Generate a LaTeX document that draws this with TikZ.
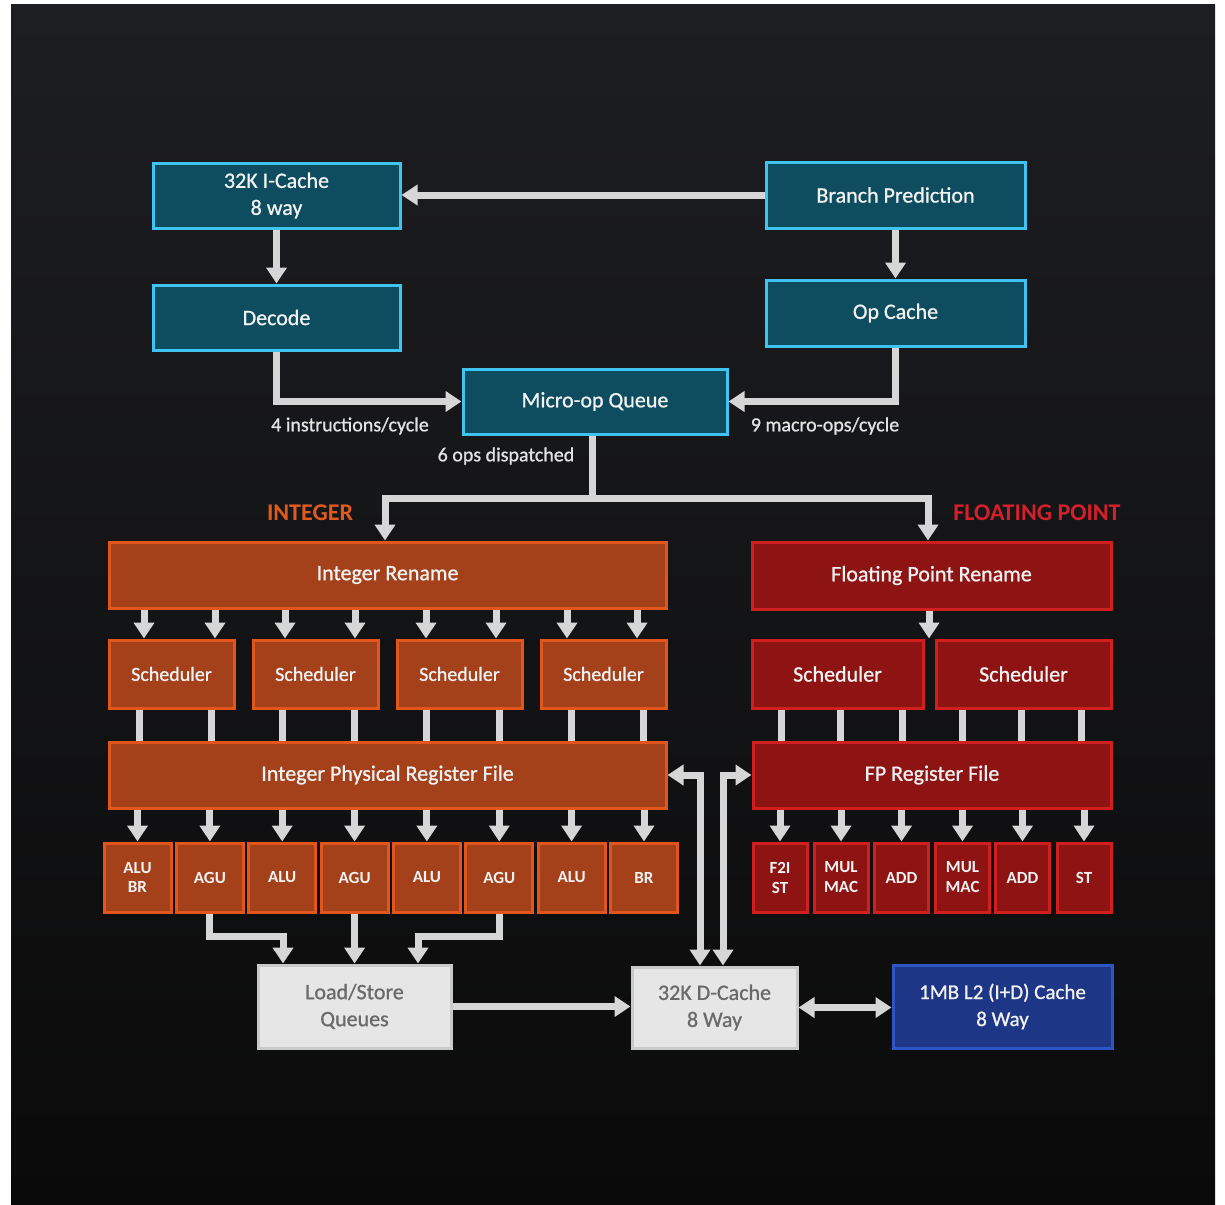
\documentclass[tikz,border=0pt]{standalone}
\usepackage{fontspec}
\setmainfont{Carlito}
\newfontfamily\medfont{Carlito}[FakeBold=0.9]
\usetikzlibrary{arrows.meta,calc}
\definecolor{bgtop}{HTML}{1D1E22}
\definecolor{bgbot}{HTML}{0A0A0A}
\definecolor{tealf}{HTML}{0E4C60}
\definecolor{teald}{HTML}{3FC3F0}
\definecolor{orgf}{HTML}{A4411A}
\definecolor{orgd}{HTML}{E2561C}
\definecolor{redf}{HTML}{8E1414}
\definecolor{redd}{HTML}{D11E1E}
\definecolor{ltwof}{HTML}{1D3686}
\definecolor{ltwod}{HTML}{2E55C6}
\definecolor{grayf}{HTML}{E6E6E6}
\definecolor{grayd}{HTML}{C9C9C9}
\definecolor{grayt}{HTML}{6A6A6A}
\definecolor{linegray}{HTML}{D6D6D6}
\definecolor{txtw}{HTML}{F2F2F2}
\definecolor{labgray}{HTML}{E2E2E2}
\definecolor{intlab}{HTML}{E05A1E}
\definecolor{fplab}{HTML}{D3202A}
\begin{document}
\begin{tikzpicture}[x=1pt,y=-1pt,
  sz/.style 2 args={minimum width=#1pt,minimum height=#2pt},
  blk/.style={draw,line width=3pt,inner sep=0pt,align=center,text=txtw},
  tealbox/.style={blk,fill=tealf,draw=teald,font=\medfont\fontsize{22}{27}\selectfont},
  orgbox/.style={blk,fill=orgf,draw=orgd,font=\medfont\fontsize{22}{27}\selectfont},
  redbox/.style={blk,fill=redf,draw=redd,font=\medfont\fontsize{22}{27}\selectfont},
  isched/.style={orgbox,font=\medfont\fontsize{20}{24}\selectfont},
  iunit/.style={orgbox,font=\bfseries\fontsize{17}{19}\selectfont},
  funit/.style={redbox,font=\bfseries\fontsize{17}{20}\selectfont},
  graybox/.style={blk,fill=grayf,draw=grayd,text=grayt,font=\medfont\fontsize{22}{27}\selectfont},
  ltwobox/.style={blk,fill=ltwof,draw=ltwod,font=\medfont\fontsize{21}{27}\selectfont},
  lab/.style={text=labgray,font=\medfont\fontsize{20}{24}\selectfont,inner sep=0pt},
  sect/.style={font=\bfseries\fontsize{24}{28}\selectfont,inner sep=0pt},
  wire/.style={draw=linegray,line width=7pt},
  arr/.style={wire,-{Triangle[width=20pt,length=16pt]}},
  darr/.style={wire,{Triangle[width=20pt,length=16pt]}-{Triangle[width=20pt,length=16pt]}},
]
\useasboundingbox (0,0) rectangle (1225,1204);
\fill[white] (0,0) rectangle (1225,1204);
\shade[top color=bgtop,bottom color=bgbot] (11,5) rectangle (1215,1204);

% front end
\node[tealbox,sz={247}{65}] (ic) at (276.5,195.5) {32K I-Cache\\8 way};
\node[tealbox,sz={259}{66}] (bp) at (895.5,195) {Branch Prediction};
\node[tealbox,sz={247}{65}] (dec) at (276.5,317.5) {Decode};
\node[tealbox,sz={259}{66}] (opc) at (895.5,313) {Op Cache};
\node[tealbox,sz={264}{65}] (muq) at (595,401.5) {Micro-op Queue};

\node[lab] (l4) at (350,426) {4 instructions/cycle};
\node[lab] (l9) at (825,426) {9 macro-ops/cycle};
\node[lab] (l6) at (506,456) {6 ops dispatched};
\node[sect,text=intlab] (tint) at (310,513) {INTEGER};
\node[sect,text=fplab] (tfp) at (1037,513) {FLOATING POINT};

% rename
\node[orgbox,sz={557}{66}] (irn) at (387.5,575) {Integer Rename};
\node[redbox,sz={359}{67}] (frn) at (931.5,575.5) {Floating Point Rename};

% schedulers
\node[isched,sz={125}{68}] (is1) at (171.5,674) {Scheduler};
\node[isched,sz={125}{68}] (is2) at (315.5,674) {Scheduler};
\node[isched,sz={125}{68}] (is3) at (459.5,674) {Scheduler};
\node[isched,sz={125}{68}] (is4) at (603.5,674) {Scheduler};
\node[redbox,sz={171}{68}] (fs1) at (837.5,674) {Scheduler};
\node[redbox,sz={175}{68}] (fs2) at (1023.5,674) {Scheduler};

% register files
\node[orgbox,sz={557}{66}] (iprf) at (387.5,775) {Integer Physical Register File};
\node[redbox,sz={358}{66}] (fprf) at (932,775) {FP Register File};

% integer units
\node[iunit,sz={67}{69}] (u1) at (137.5,877.5) {ALU\\BR};
\node[iunit,sz={67}{69}] (u2) at (209.9,877.5) {AGU};
\node[iunit,sz={67}{69}] (u3) at (282.2,877.5) {ALU};
\node[iunit,sz={67}{69}] (u4) at (354.6,877.5) {AGU};
\node[iunit,sz={67}{69}] (u5) at (426.9,877.5) {ALU};
\node[iunit,sz={67}{69}] (u6) at (499.3,877.5) {AGU};
\node[iunit,sz={67}{69}] (u7) at (571.6,877.5) {ALU};
\node[iunit,sz={67}{69}] (u8) at (644,877.5) {BR};

% fp units
\node[funit,sz={54}{69}] (f1) at (780,877.5) {F2I\\ST};
\node[funit,sz={54}{69}] (f2) at (841,877.5) {MUL\\MAC};
\node[funit,sz={54}{69}] (f3) at (901.5,877.5) {ADD};
\node[funit,sz={54}{69}] (f4) at (962.5,877.5) {MUL\\MAC};
\node[funit,sz={54}{69}] (f5) at (1022.5,877.5) {ADD};
\node[funit,sz={54}{69}] (f6) at (1084,877.5) {ST};

% memory
\node[graybox,sz={193}{83}] (lsq) at (354.5,1006.5) {Load/Store\\Queues};
\node[graybox,sz={165}{81}] (dc) at (714.5,1007.5) {32K D-Cache\\8 Way};
\node[ltwobox,sz={219}{83}] (l2) at (1002.5,1006.5) {1MB L2 (I+D) Cache\\8 Way};

% front-end connectors
\draw[arr] (bp.west) -- (bp.west -| ic.east);
\draw[arr] (ic.south) -- (dec.north);
\draw[arr] (bp.south) -- (opc.north);
\draw[arr] (dec.south) |- (muq.west);
\draw[arr] (opc.south) |- (muq.east);

\coordinate (sp) at (592,498);
\coordinate (xi) at (385,0);
\coordinate (xf) at (928,0);
\draw[wire] (muq.south -| sp) -- (sp);
\draw[darr] (irn.north -| xi) |- (sp) -| (frn.north -| xf);

% rename -> schedulers
\foreach \x/\t in {144/is1,215/is1,285/is2,355/is2,426/is3,496/is3,567/is4,637/is4}{
  \coordinate (tt) at (\x,0);
  \draw[arr] (irn.south -| tt) -- (\t.north -| tt);
}
\coordinate (tf) at (929,0);
\draw[arr] (frn.south -| tf) -- (fs1.north -| tf);

% schedulers -> register files
\foreach \x/\t in {139/is1,211/is1,282/is2,354/is2,426/is3,499/is3,571/is4,643/is4,781/fs1,840/fs1,902/fs1,962/fs2,1021/fs2,1081/fs2}{
  \coordinate (tt) at (\x,0);
  \ifnum\x<700
    \draw[wire] (\t.south -| tt) -- (iprf.north -| tt);
  \else
    \draw[wire] (\t.south -| tt) -- (fprf.north -| tt);
  \fi
}

% register files -> units
\foreach \u in {u1,u2,u3,u4,u5,u6,u7,u8}{
  \draw[arr] (iprf.south -| \u) -- (\u.north);
}
\foreach \u in {f1,f2,f3,f4,f5,f6}{
  \draw[arr] (fprf.south -| \u) -- (\u.north);
}

% AGU -> load/store
\coordinate (ja) at (283,936);
\coordinate (jb) at (418,936);
\draw[arr] (u2.south) |- (ja) -- (ja |- lsq.north);
\draw[arr] (u4.south) -- (u4.south |- lsq.north);
\draw[arr] (u6.south) |- (jb) -- (jb |- lsq.north);

% memory connectors
\draw[arr] (lsq.east) -- (lsq.east -| dc.west);
\draw[darr] (dc.east) -- (dc.east -| l2.west);
\coordinate (va) at (700,775);
\coordinate (vb) at (723,775);
\draw[darr] (iprf.east) -| (va |- dc.north);
\draw[darr] (fprf.west) -| (vb |- dc.north);
\end{tikzpicture}
\end{document}
